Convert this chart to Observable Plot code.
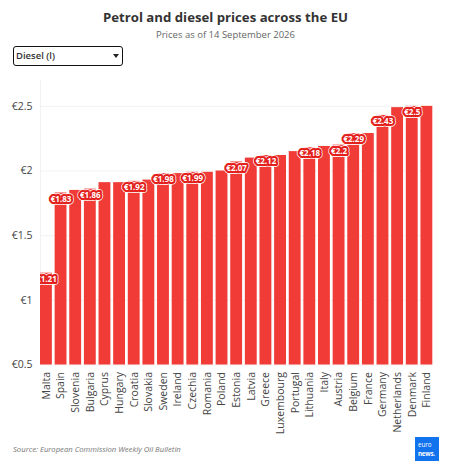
<!DOCTYPE html>
<html>
<head>
<meta charset="utf-8">
<script src="https://cdn.jsdelivr.net/npm/d3@7"></script>
<script src="https://cdn.jsdelivr.net/npm/@observablehq/plot@0.6"></script>
<style>
html,body{margin:0;padding:0;background:#fff;font-family:"Open Sans",sans-serif;}
#page{position:relative;width:450px;height:468px;overflow:hidden;}
#head{height:75px;position:relative;}
#title{position:absolute;left:0;right:0;top:7px;text-align:center;font-weight:700;font-size:13.2px;line-height:20px;color:#333;padding-left:1px;}
#sub{position:absolute;left:0;right:0;top:27px;text-align:center;font-size:9.5px;line-height:16px;color:#666;padding-left:1px;}
#drop{position:absolute;left:13px;top:46px;width:108px;height:18px;box-sizing:content-box;border:1px solid #111;border-radius:3px;font-size:9.5px;font-weight:600;line-height:18px;color:#333;text-indent:2px;}
#drop:after{content:"";position:absolute;right:3px;top:7px;border-left:3.5px solid transparent;border-right:3.5px solid transparent;border-top:4px solid #222;}
#chart svg{display:block;}
#source{position:absolute;left:13px;top:444px;font-size:7.7px;font-style:italic;color:#777;}
#logo{position:absolute;left:415px;top:437px;width:24px;height:24px;background:#1273ee;color:#fff;font-size:6.2px;line-height:8.6px;padding:4px 0 0 3px;box-sizing:border-box;white-space:nowrap;}
#logo span{display:block;}
#logo b{display:block;font-weight:700;letter-spacing:-.2px;}
</style>
</head>
<body>
<div id="page">
<div id="head">
<div id="title">Petrol and diesel prices across the EU</div>
<div id="sub">Prices as of 14 September 2026</div>
<div id="drop">Diesel (l)</div>
</div>
<div id="chart"></div>
<div id="source">Source: European Commission Weekly Oil Bulletin</div>
<div id="logo"><span>euro</span><b>news.</b></div>
</div>
<script>
const countries = ["Malta","Spain","Slovenia","Bulgaria","Cyprus","Hungary","Croatia","Slovakia","Sweden","Ireland","Czechia","Romania","Poland","Estonia","Latvia","Greece","Luxembourg","Portugal","Lithuania","Italy","Austria","Belgium","France","Germany","Netherlands","Denmark","Finland"];
const prices = [1.21,1.83,1.85,1.86,1.91,1.91,1.92,1.93,1.98,1.98,1.99,1.99,2.0,2.07,2.10,2.12,2.12,2.15,2.18,2.19,2.2,2.29,2.29,2.43,2.49,2.5,2.5];
const labelled = ["Malta","Spain","Bulgaria","Croatia","Sweden","Czechia","Estonia","Greece","Lithuania","Austria","Belgium","Germany","Denmark"];
const yTicks = [0.5,1,1.5,2,2.5];
const yDomain = [0.5,2.7];
const barColor = "#f03b36";

const rows = countries.map((c,i)=>({country:c,price:prices[i]}));
const labels = rows.filter(d=>labelled.includes(d.country));
const euro = v => "€"+(+v.toFixed(2));
const labelOpts = {
  x:"country", y:"price", text:d=>euro(d.price), dy:6,
  fontSize:8, fontWeight:700, fontFamily:"Open Sans", clip:"frame", strokeLinejoin:"round"
};

const plot = Plot.plot({
  width:450, height:360,
  marginLeft:40, marginRight:17.7, marginTop:5, marginBottom:70.5,
  style:{fontFamily:"Open Sans",background:"transparent"},
  x:{domain:countries, paddingInner:0.19, paddingOuter:0, round:false, label:null},
  y:{domain:yDomain, label:null},
  marks:[
    Plot.ruleY(yTicks,{stroke:"#f2f2f2"}),
    Plot.frame({anchor:"left",stroke:"#f2f2f2"}),
    Plot.barY(rows,{x:"country",y1:yDomain[0],y2:"price",fill:barColor}),
    Plot.text(labels,{...labelOpts,stroke:"#fff",strokeWidth:5.6,fill:"#fff"}),
    Plot.text(labels,{...labelOpts,stroke:"#e3201c",strokeWidth:4.2,fill:"#e3201c"}),
    Plot.text(labels,{...labelOpts,fill:"#fff"}),
    Plot.axisY({ticks:yTicks,tickSize:0,tickPadding:8,tickFormat:euro,fontSize:10.5,color:"#444",label:null}),
    Plot.axisX({tickSize:0,tickPadding:7,tickRotate:-90,fontSize:10.5,color:"#444",label:null,textAnchor:"end"})
  ]
});
document.getElementById("chart").appendChild(plot);
</script>
</body>
</html>
